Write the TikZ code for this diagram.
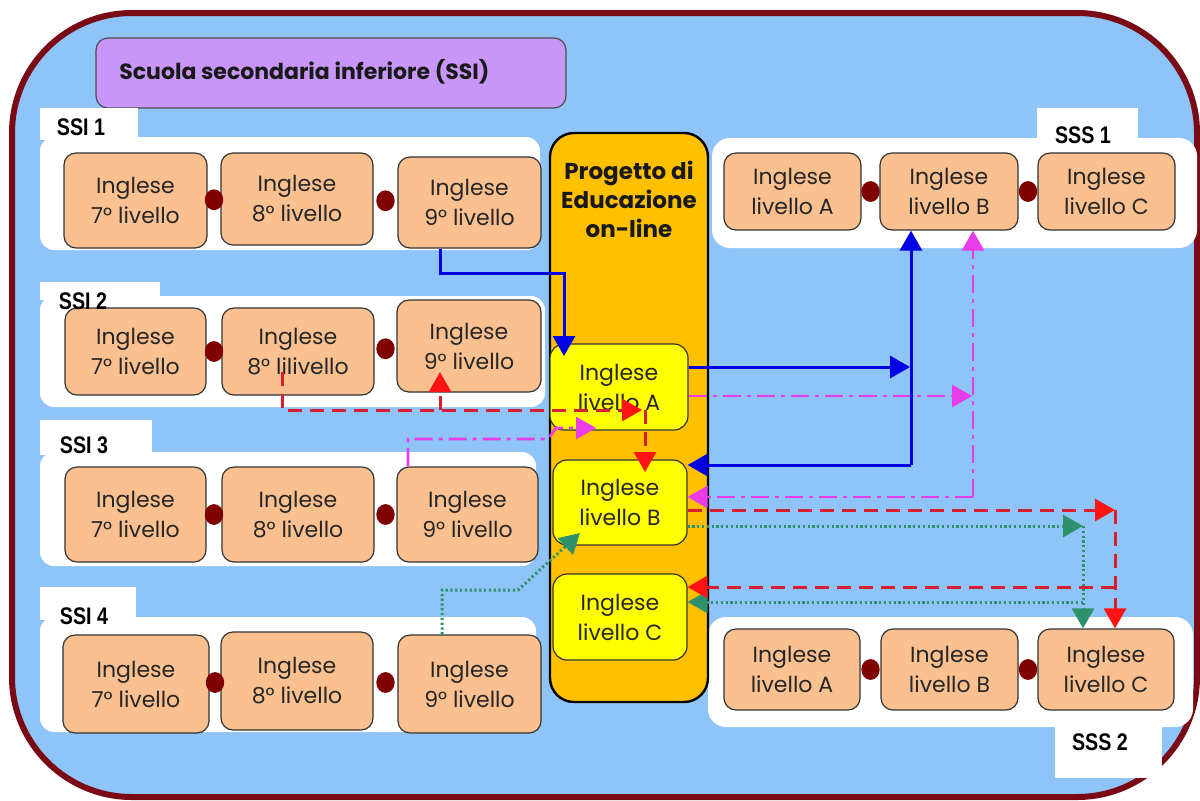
\documentclass[tikz,border=0pt]{standalone}
\usepackage{fontspec}
\setmainfont{Poppins}
\newfontfamily\labfont{Liberation Sans}
\usetikzlibrary{arrows.meta,calc}
\definecolor{bgblue}{RGB}{142,196,247}
\definecolor{framered}{RGB}{122,10,22}
\definecolor{titlep}{RGB}{200,150,248}
\definecolor{peach}{RGB}{250,192,144}
\definecolor{colorange}{RGB}{255,192,0}
\definecolor{yel}{RGB}{255,255,0}
\definecolor{dotred}{RGB}{128,0,0}
\definecolor{ablue}{RGB}{0,0,230}
\definecolor{amag}{RGB}{232,60,232}
\definecolor{ared}{RGB}{215,30,50}
\definecolor{aredtip}{RGB}{255,20,20}
\definecolor{agreen}{RGB}{45,145,110}
\newcommand\rb[7]{\node[#1, minimum width={(#5-#3)*0.5pt}, minimum height={(#6-#4)*0.5pt}] (#2) at ({(#3+#5)/2},{(#4+#6)/2}) {#7};}
\newcommand\labtxt[1]{\scalebox{0.82}[1]{#1}}
\begin{document}
\begin{tikzpicture}[x=0.5pt,y=-0.5pt,
  pbox/.style={draw=black!80, line width=0.6pt, fill=peach, rounded corners=6pt, inner sep=0pt, align=center, font=\fontsize{11}{15}\selectfont, text=black!85},
  ybox/.style={pbox, fill=yel, rounded corners=7pt},
  colbox/.style={draw=black, line width=1.2pt, fill=colorange, rounded corners=12pt, inner sep=0pt},
  titlebox/.style={draw=black!70, line width=0.6pt, fill=titlep, rounded corners=6pt, inner sep=0pt},
  titletxt/.style={font=\bfseries\fontsize{11}{14}\selectfont, text=black!90, anchor=west, inner sep=0pt},
  coltxt/.style={font=\bfseries\fontsize{11.5}{14.5}\selectfont, align=center, inner sep=0pt, text=black!90},
  lab/.style={font=\labfont\bfseries\fontsize{12}{12}\selectfont, inner sep=0pt, text=black},
  panel/.style={fill=white},
  linkdot/.style={fill=dotred},
  arrblue/.style={draw=ablue, line width=1.5pt, -{Triangle[length=10pt,width=11pt]}},
  arrmag/.style={draw=amag, line width=1.4pt, dash pattern=on 9pt off 3pt on 2pt off 3pt, -{Triangle[length=10pt,width=11pt]}},
  arrred/.style={draw=ared, line width=1.5pt, dash pattern=on 7pt off 4pt, -{Triangle[length=10pt,width=11pt,color=aredtip]}},
  arrgreen/.style={draw=agreen, line width=1.5pt, dash pattern=on 1.1pt off 1.3pt, -{Triangle[length=10pt,width=11pt]}}
]
\useasboundingbox (0,0) rectangle (1200,800);
\fill[white] (0,0) rectangle (1200,800);
% frame
\draw[draw=framered, line width=3pt, fill=bgblue, rounded corners=60pt] (12,13) rectangle (1197,797);

% title
\rb{titlebox}{title}{96}{38}{566}{108}{}
\node[titletxt] (titletext) at (119,72) {Scuola secondaria inferiore (SSI)};

% panels
\fill[panel] (40,108) rectangle (138,140);
\fill[panel, rounded corners=7pt] (40,137) rectangle (540,250);
\fill[panel] (40,282) rectangle (160,300);
\fill[panel, rounded corners=7pt] (40,296) rectangle (545,407);
\fill[panel] (40,420) rectangle (152,455);
\fill[panel, rounded corners=7pt] (40,452) rectangle (536,566);
\fill[panel] (40,587) rectangle (136,620);
\fill[panel, rounded corners=7pt] (40,617) rectangle (536,732);
\fill[panel] (1037,108) rectangle (1138,140);
\fill[panel, rounded corners=9pt] (712,138) rectangle (1197,248);
\fill[panel, rounded corners=9pt] (708,617) rectangle (1193,727);
\fill[panel] (1055,725) rectangle (1162,778);

% SSI boxes
\rb{pbox}{s11}{64}{153}{207}{248}{Inglese\\7° livello}
\rb{pbox}{s12}{221}{153}{373}{245}{Inglese\\8° livello}
\rb{pbox}{s13}{398}{157}{541}{248}{Inglese\\9° livello}
\rb{pbox}{s21}{65}{308}{206}{395}{Inglese\\7° livello}
\rb{pbox}{s22}{222}{308}{374}{395}{Inglese\\8° lilivello}
\rb{pbox}{s23}{397}{300}{541}{392}{Inglese\\9° livello}
\rb{pbox}{s31}{65}{467}{206}{562}{Inglese\\7° livello}
\rb{pbox}{s32}{222}{467}{374}{562}{Inglese\\8° livello}
\rb{pbox}{s33}{397}{467}{538}{562}{Inglese\\9° livello}
\rb{pbox}{s41}{63}{635}{209}{733}{Inglese\\7° livello}
\rb{pbox}{s42}{221}{632}{373}{730}{Inglese\\8° livello}
\rb{pbox}{s43}{398}{635}{541}{733}{Inglese\\9° livello}
% SSS boxes
\rb{pbox}{q1A}{724}{153}{861}{230}{Inglese\\livello A}
\rb{pbox}{q1B}{880}{153}{1018}{230}{Inglese\\livello B}
\rb{pbox}{q1C}{1038}{153}{1175}{230}{Inglese\\livello C}
\rb{pbox}{q2A}{724}{629}{860}{710}{Inglese\\livello A}
\rb{pbox}{q2B}{881}{629}{1018}{710}{Inglese\\livello B}
\rb{pbox}{q2C}{1038}{629}{1174}{710}{Inglese\\livello C}

% link dots
\foreach \a/\b in {s11/s12,s12/s13,s21/s22,s22/s23,s31/s32,s32/s33,s41/s42,s42/s43,q1A/q1B,q1B/q1C,q2A/q2B,q2B/q2C}
  \fill[linkdot] ($(\a.east)!.5!(\b.west)$) ellipse (4.6pt and 5.2pt);

% labels
\node[lab] (l1) at (81,127) {\labtxt{SSI 1}};
\node[lab] (l2) at (83,301) {\labtxt{SSI 2}};
\node[lab] (l3) at (84,445) {\labtxt{SSI 3}};
\node[lab] (l4) at (84,616) {\labtxt{SSI 4}};
\node[lab] (l5) at (1083,135) {\labtxt{SSS 1}};
\node[lab] (l6) at (1100,742) {\labtxt{SSS 2}};

% column
\rb{colbox}{col}{550}{133}{708}{702}{}
\node[coltxt] (coltext) at (629,199) {Progetto di\\Educazione\\on-line};
\rb{ybox}{yA}{550}{344}{688}{430}{Inglese\\livello A}
\rb{ybox}{yB}{553}{460}{687}{545}{Inglese\\livello B}
\rb{ybox}{yC}{553}{574}{687}{660}{Inglese\\livello C}

% coordinates for routing
\coordinate (b0) at (440,273);
\coordinate (b1) at (564,273);
\coordinate (b1e) at (564,356);
\coordinate (b2) at (910,367);
\coordinate (b3) at (911,465);
\coordinate (m0) at (408,439);
\coordinate (m1) at (548,439);
\coordinate (m2) at (556,428);
\coordinate (m2e) at (596,428);
\coordinate (m3) at (972,396);
\coordinate (m4) at (973,497);
\coordinate (r0) at (282,372);
\coordinate (r1) at (282,410);
\coordinate (r2) at (642,410);
\coordinate (r3) at (645,410);
\coordinate (r3e) at (645,472);
\coordinate (r4) at (440,410);
\coordinate (r4e) at (440,372);
\coordinate (r5) at (1115,510);
\coordinate (r6) at (1115,587);
\coordinate (g0) at (442,590);
\coordinate (g1) at (518,590);
\coordinate (g2) at (580,533);
\coordinate (g3) at (1083,526);
\coordinate (g4) at (1083,602);

% green
\draw[arrgreen] (s43.north -| g0) -- (g0) -- (g1) -- (g2);
\draw[arrgreen] (yB.east |- g3) -- (g3);
\draw[arrgreen] (g3) -- (q2C.north -| g3);
\draw[arrgreen] (g4) -- (yC.east |- g4);
% red
\draw[arrred] (r0) -- (r1) -- (r2);
\draw[arrred] (r3) -- (r3e);
\draw[arrred] (r4) -- (r4e);
\draw[arrred] (yB.east |- r5) -- (r5);
\draw[arrred] (r5) -- (q2C.north -| r5);
\draw[arrred] (r6) -- (yC.east |- r6);
% magenta
\draw[arrmag] (s33.north -| m0) -- (m0) -- (m1) -- (m2) -- (m2e);
\draw[arrmag] (yA.east |- m3) -- (m3);
\draw[arrmag] (m4) -- (q1B.south -| m4);
\draw[arrmag] (m4) -- (yB.east |- m4);
% blue
\draw[arrblue] (s13.south -| b0) -- (b0) -- (b1) -- (b1e);
\draw[arrblue] (yA.east |- b2) -- (b2);
\draw[arrblue] (b3) -- (q1B.south -| b3);
\draw[arrblue] (b3) -- (yB.east |- b3);
\end{tikzpicture}
\end{document}
